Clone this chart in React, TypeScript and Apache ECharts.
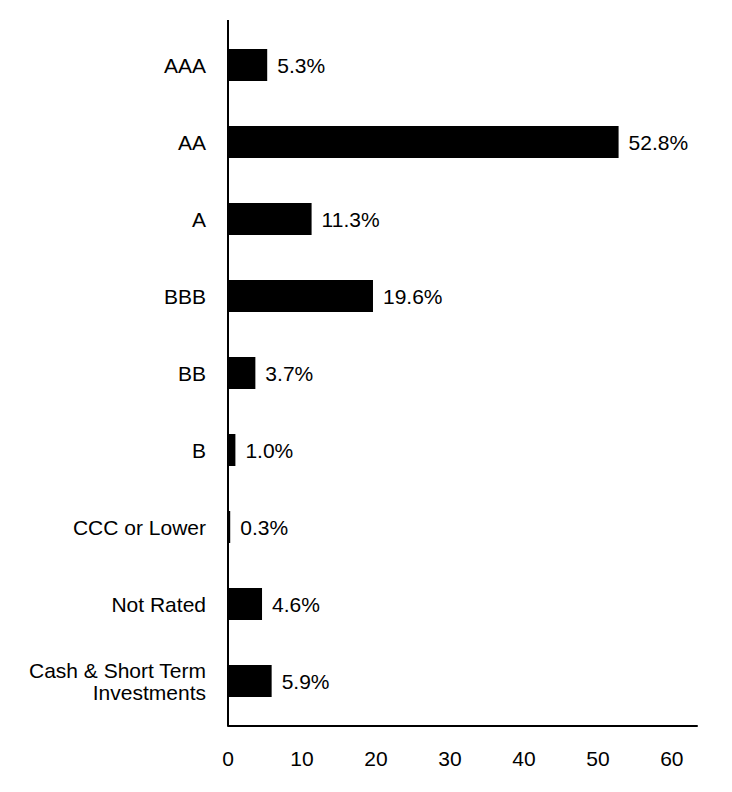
import React, { useEffect, useRef } from "react";
import * as echarts from "echarts";

const categories = [
  "AAA",
  "AA",
  "A",
  "BBB",
  "BB",
  "B",
  "CCC or Lower",
  "Not Rated",
  "Cash & Short Term\nInvestments",
];
const values = [5.3, 52.8, 11.3, 19.6, 3.7, 1.0, 0.3, 4.6, 5.9];
const xTicks = [0, 10, 20, 30, 40, 50, 60];

const FONT = "'Liberation Sans', Arial, Helvetica, sans-serif";

export default function App() {
  const ref = useRef<HTMLDivElement>(null);
  useEffect(() => {
    if (!ref.current) return;
    const chart = echarts.init(ref.current, undefined, { renderer: "svg" });
    chart.setOption({
      animation: false,
      backgroundColor: "#ffffff",
      grid: { left: 228, right: 35, top: 26.5, bottom: 72.5, containLabel: false },
      xAxis: {
        type: "value",
        min: xTicks[0],
        max: 63.4,
        interval: 10,
        offset: 6.5,
        axisLine: { show: true, lineStyle: { color: "#000", width: 2 } },
        axisTick: { show: false },
        splitLine: { show: false },
        axisLabel: {
          show: true,
          showMaxLabel: false,
          color: "#000",
          fontFamily: FONT,
          fontSize: 21,
          margin: 22,
        },
      },
      yAxis: {
        type: "category",
        inverse: true,
        data: categories,
        axisLine: { show: false },
        axisTick: { show: false },
        axisLabel: {
          color: "#000",
          fontFamily: FONT,
          fontSize: 21,
          margin: 22,
          lineHeight: 22,
        },
      },
      graphic: [
        {
          type: "line",
          shape: { x1: 228, y1: 20, x2: 228, y2: 726 },
          style: { stroke: "#000", lineWidth: 2 },
        },
      ],
      series: [
        {
          type: "bar",
          data: values,
          barWidth: 32,
          itemStyle: { color: "#000" },
          label: {
            show: true,
            position: "right",
            distance: 10,
            color: "#000",
            fontFamily: FONT,
            fontSize: 21,
            formatter: (p: any) => `${Number(p.value).toFixed(1)}%`,
          },
        },
      ],
    });
    return () => chart.dispose();
  }, []);
  return <div ref={ref} style={{ width: 732, height: 792, margin: -8 }} />;
}
